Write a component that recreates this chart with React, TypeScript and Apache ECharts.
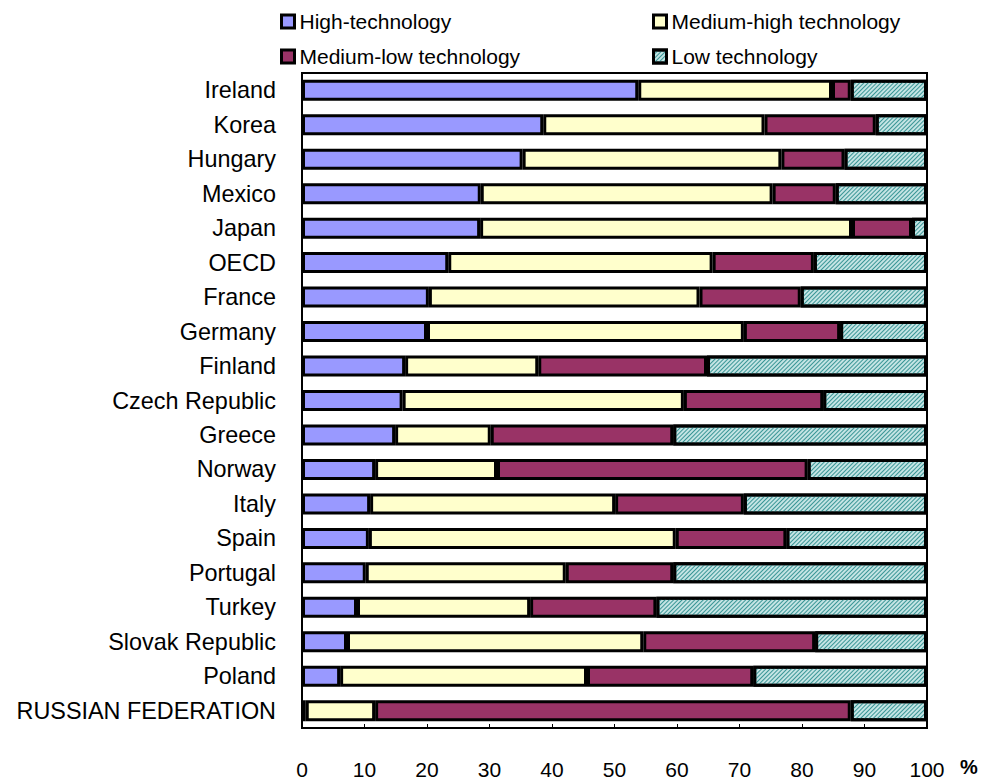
import React, { useEffect, useRef } from 'react';
import * as echarts from 'echarts';

const countries = ['Ireland', 'Korea', 'Hungary', 'Mexico', 'Japan', 'OECD', 'France', 'Germany', 'Finland', 'Czech Republic', 'Greece', 'Norway', 'Italy', 'Spain', 'Portugal', 'Turkey', 'Slovak Republic', 'Poland', 'RUSSIAN FEDERATION'];
const highTech = [53.8, 38.6, 35.3, 28.6, 28.5, 23.4, 20.3, 20.0, 16.5, 16.1, 14.9, 11.7, 10.9, 10.7, 10.2, 8.8, 7.2, 6.1, 0.6];
const mediumHighTech = [31.0, 35.4, 41.4, 46.7, 59.5, 42.3, 43.3, 50.7, 21.3, 45.0, 15.3, 19.5, 39.2, 49.1, 32.0, 27.7, 47.4, 39.5, 11.1];
const mediumLowTech = [3.0, 17.8, 10.1, 10.1, 9.6, 16.2, 16.2, 15.4, 27.0, 22.3, 29.2, 49.7, 20.6, 17.7, 17.2, 20.2, 27.5, 26.6, 76.1];
const lowTech = [12.2, 8.2, 13.2, 14.6, 2.4, 18.1, 20.2, 13.9, 35.2, 16.6, 40.6, 19.1, 29.3, 22.5, 40.6, 43.3, 17.9, 27.8, 12.2];
const seriesNames = ['High-technology', 'Medium-high technology', 'Medium-low technology', 'Low technology'];
const xMin = 0;
const xMax = 100;
const xInterval = 10;
const unitLabel = '%';

const FONT = '"Liberation Sans", Arial, sans-serif';

export default function App() {
  const ref = useRef<HTMLDivElement>(null);
  useEffect(() => {
    if (!ref.current) return;
    const chart = echarts.init(ref.current, null, { renderer: 'svg' });
    const barBase = {
      type: 'bar' as const,
      stack: 'total',
      barWidth: 21,
      emphasis: { disabled: true },
    };
    const border = { borderColor: '#000', borderWidth: 3 };
    const legendCommon = {
      selectedMode: false,
      icon: 'rect',
      itemWidth: 13,
      itemHeight: 13,
      padding: 0,
      itemStyle: { borderColor: '#000', borderWidth: 3 },
      textStyle: { fontFamily: FONT, fontSize: 21, color: '#000' },
    };
    chart.setOption({
      animation: false,
      backgroundColor: '#fff',
      textStyle: { fontFamily: FONT },
      legend: [
        { ...legendCommon, data: [seriesNames[0]], left: 280, top: 11 },
        { ...legendCommon, data: [seriesNames[1]], left: 652, top: 11 },
        { ...legendCommon, data: [seriesNames[2]], left: 280, top: 46 },
        { ...legendCommon, data: [seriesNames[3]], left: 652, top: 46 },
      ],
      grid: {
        left: 302,
        right: 59,
        top: 73,
        bottom: 50,
        show: true,
        borderColor: '#000',
        borderWidth: 2,
        backgroundColor: '#fff',
      },
      xAxis: {
        type: 'value',
        min: xMin,
        max: xMax,
        interval: xInterval,
        splitLine: { show: false },
        axisLine: { show: true, lineStyle: { color: '#000', width: 2 } },
        axisTick: { show: true, inside: true, length: 4, lineStyle: { color: '#000', width: 1 } },
        axisLabel: { fontFamily: FONT, fontSize: 21, color: '#000', margin: 31 },
      },
      yAxis: {
        type: 'category',
        data: countries,
        inverse: true,
        axisLine: { show: true, lineStyle: { color: '#000', width: 2 } },
        axisTick: { show: false },
        axisLabel: { fontFamily: FONT, fontSize: 23.4, color: '#000', margin: 26 },
      },
      graphic: [
        {
          type: 'text',
          left: 960,
          top: 757,
          style: { text: unitLabel, fontFamily: FONT, fontSize: 20, fontWeight: 'bold', fill: '#000' },
        },
      ],
      series: [
        { ...barBase, name: seriesNames[0], data: highTech, itemStyle: { color: '#9999ff', ...border } },
        { ...barBase, name: seriesNames[1], data: mediumHighTech, itemStyle: { color: '#ffffcc', ...border } },
        { ...barBase, name: seriesNames[2], data: mediumLowTech, itemStyle: { color: '#993366', ...border } },
        {
          ...barBase,
          name: seriesNames[3],
          data: lowTech,
          itemStyle: {
            color: '#c4e4e4',
            ...border,
            decal: {
              symbol: 'rect',
              symbolSize: 1,
              dashArrayX: [1, 0],
              dashArrayY: [1, 1.2],
              rotation: -Math.PI / 4,
              color: '#3a9696',
            },
          },
        },
      ],
    });
    return () => chart.dispose();
  }, []);
  return <div ref={ref} style={{ position: 'absolute', left: 0, top: 0, width: 986, height: 780 }} />;
}
